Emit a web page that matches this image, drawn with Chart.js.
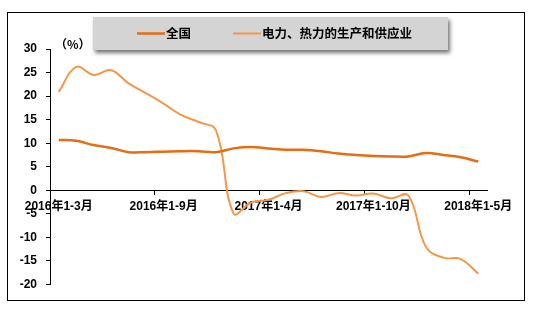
<!DOCTYPE html>
<html>
<head>
<meta charset="utf-8">
<script src="https://cdn.jsdelivr.net/npm/chart.js@4"></script>
<style>
  html, body { margin: 0; padding: 0; background: #fff; }
</style>
</head>
<body>
<canvas id="investChart" width="534" height="309"></canvas>
<script>
// 月度累计区间
const periods = [
  '2016年1-3月', '2016年1-4月', '2016年1-5月', '2016年1-6月', '2016年1-7月',
  '2016年1-8月', '2016年1-9月', '2016年1-10月', '2016年1-11月', '2016年1-12月',
  '2017年1-2月', '2017年1-3月', '2017年1-4月', '2017年1-5月', '2017年1-6月',
  '2017年1-7月', '2017年1-8月', '2017年1-9月', '2017年1-10月', '2017年1-11月',
  '2017年1-12月', '2018年1-2月', '2018年1-3月', '2018年1-4月', '2018年1-5月'
];
// 横轴上显示的标签
const shownLabels = ['2016年1-3月', '2016年1-9月', '2017年1-4月', '2017年1-10月', '2018年1-5月'];

const seriesNames = ['全国', '电力、热力的生产和供应业'];
const national = [10.7, 10.5, 9.6, 9.0, 8.1, 8.1, 8.2, 8.3, 8.3, 8.1,
  8.9, 9.2, 8.9, 8.6, 8.6, 8.3, 7.8, 7.5, 7.3, 7.2, 7.2, 7.9, 7.5, 7.0, 6.1];
const powerHeat = [20.9, 26.2, 24.5, 25.5, 22.7, 20.6, 18.4, 16.0, 14.5, 12.7,
  -4.9, -2.6, -2.0, -0.6, -0.2, -1.4, -0.6, -1.1, -0.7, -1.7, -1.1, -12.0, -14.3, -14.6, -17.7];

const yMin = -20, yMax = 30, yStep = 5;
const unitLabel = '（%）';

const seriesColors = ['#E56D12', '#F79646'];
const latinFont = '"Liberation Sans", Arial, "Noto Sans CJK SC", sans-serif';
const cjkFont = '"Noto Sans CJK SC", "Liberation Sans", sans-serif';

// 外框、图例框和单位
const decorations = {
  id: 'decorations',
  afterDraw(chart) {
    const { ctx } = chart;
    ctx.save();

    ctx.strokeStyle = '#000';
    ctx.lineWidth = 1;
    ctx.strokeRect(7.5, 12.5, 517, 288);

    // 图例底框（带阴影）
    ctx.save();
    ctx.shadowColor = 'rgba(0,0,0,0.55)';
    ctx.shadowOffsetX = 2;
    ctx.shadowOffsetY = 3;
    ctx.shadowBlur = 4;
    ctx.fillStyle = '#d4d4d4';
    ctx.fillRect(93, 17, 355, 33);
    ctx.restore();

    const items = [
      { x0: 137, x1: 165 },
      { x0: 233, x1: 261 }
    ];
    chart.data.datasets.forEach((ds, i) => {
      const it = items[i];
      ctx.strokeStyle = ds.borderColor;
      ctx.lineWidth = ds.borderWidth;
      ctx.beginPath();
      ctx.moveTo(it.x0, 33.5);
      ctx.lineTo(it.x1, 33.5);
      ctx.stroke();
      ctx.fillStyle = '#000';
      ctx.font = 'bold 12.5px ' + cjkFont;
      ctx.textBaseline = 'middle';
      ctx.textAlign = 'left';
      ctx.fillText(ds.label, it.x1 + 1, 33.5);
    });

    ctx.font = 'bold 12px ' + cjkFont;
    ctx.textBaseline = 'middle';
    ctx.fillText(unitLabel, 55, 44);
    ctx.restore();
  }
};

new Chart(document.getElementById('investChart'), {
  type: 'line',
  data: {
    labels: periods,
    datasets: [
      {
        label: seriesNames[0],
        data: national,
        borderColor: seriesColors[0],
        borderWidth: 2.5,
        pointRadius: 0,
        tension: 0.4
      },
      {
        label: seriesNames[1],
        data: powerHeat,
        borderColor: seriesColors[1],
        borderWidth: 2,
        pointRadius: 0,
        tension: 0.4
      }
    ]
  },
  options: {
    responsive: false,
    animation: false,
    devicePixelRatio: 1,
    layout: { padding: { left: 0, top: 49, right: 47, bottom: 24.5 } },
    plugins: {
      legend: { display: false },
      tooltip: { enabled: false }
    },
    scales: {
      x: {
        position: { y: 0 },
        offset: true,
        z: 1,
        grid: {
          offset: true,
          drawOnChartArea: false,
          tickLength: 4,
          color: (c) => (c.index % 6 === 0 && c.index < periods.length ? '#000' : 'rgba(0,0,0,0)')
        },
        border: { display: true, color: '#000', width: 1 },
        ticks: {
          autoSkip: false,
          maxRotation: 0,
          padding: 5,
          color: '#000',
          font: { family: latinFont, size: 12, weight: 'bold' },
          callback: function (value) {
            const lbl = this.getLabelForValue(value);
            return shownLabels.includes(lbl) ? lbl : '';
          }
        }
      },
      y: {
        min: yMin,
        max: yMax,
        afterFit: (s) => { s.width = 50; },
        grid: { drawOnChartArea: false, tickLength: 4, color: '#000' },
        border: { display: true, color: '#000', width: 1 },
        ticks: {
          stepSize: yStep,
          padding: 9,
          color: '#000',
          font: { family: latinFont, size: 12, weight: 'bold' }
        }
      }
    }
  },
  plugins: [decorations]
});
</script>
</body>
</html>
